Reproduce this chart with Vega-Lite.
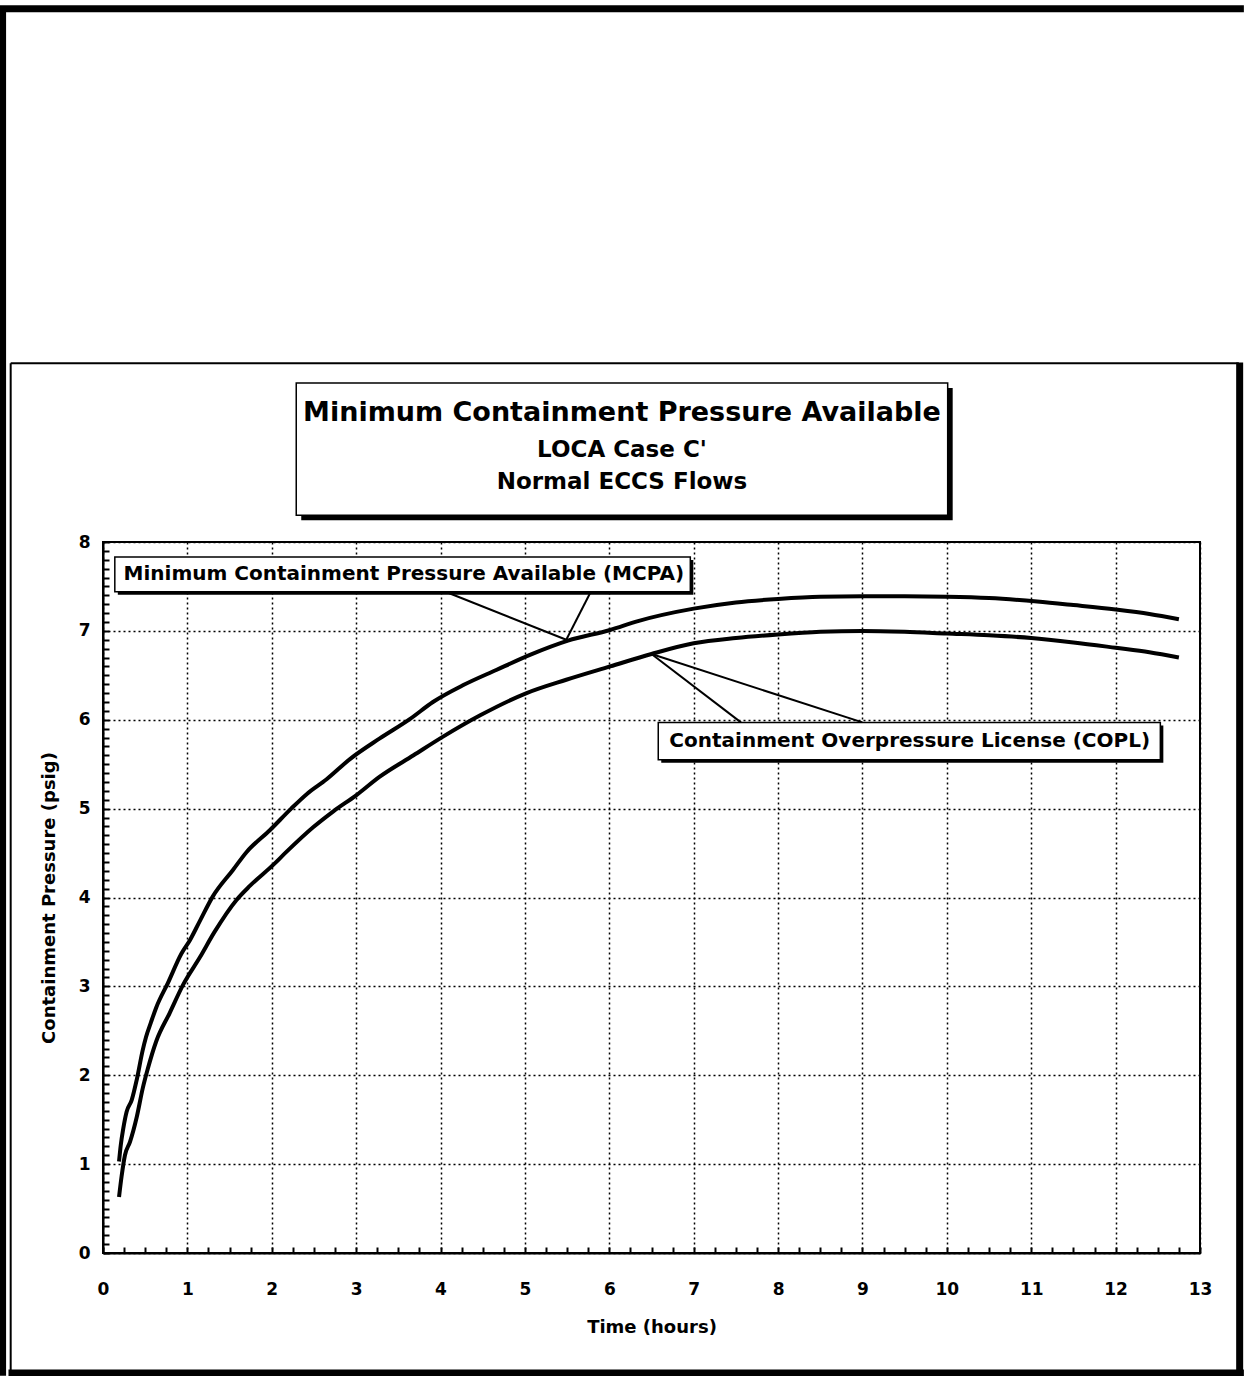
{
  "$schema": "https://vega.github.io/schema/vega-lite/v6.json",
  "autosize": {"type": "none"},
  "width": 1097,
  "height": 711,
  "padding": {"left": 103, "top": 542, "right": 44, "bottom": 123},
  "background": "white",
  "view": {"stroke": "black", "strokeWidth": 2},
  "datasets": {
    "curves": [
      {"t": 0.19, "p": 1.03, "series": "MCPA"},
      {"t": 0.21, "p": 1.21, "series": "MCPA"},
      {"t": 0.24, "p": 1.40, "series": "MCPA"},
      {"t": 0.28, "p": 1.59, "series": "MCPA"},
      {"t": 0.34, "p": 1.72, "series": "MCPA"},
      {"t": 0.40, "p": 1.95, "series": "MCPA"},
      {"t": 0.47, "p": 2.28, "series": "MCPA"},
      {"t": 0.51, "p": 2.43, "series": "MCPA"},
      {"t": 0.57, "p": 2.60, "series": "MCPA"},
      {"t": 0.63, "p": 2.76, "series": "MCPA"},
      {"t": 0.77, "p": 3.04, "series": "MCPA"},
      {"t": 0.93, "p": 3.37, "series": "MCPA"},
      {"t": 1.03, "p": 3.52, "series": "MCPA"},
      {"t": 1.15, "p": 3.74, "series": "MCPA"},
      {"t": 1.30, "p": 4.01, "series": "MCPA"},
      {"t": 1.54, "p": 4.31, "series": "MCPA"},
      {"t": 1.70, "p": 4.51, "series": "MCPA"},
      {"t": 1.98, "p": 4.76, "series": "MCPA"},
      {"t": 2.23, "p": 5.00, "series": "MCPA"},
      {"t": 2.41, "p": 5.16, "series": "MCPA"},
      {"t": 2.65, "p": 5.33, "series": "MCPA"},
      {"t": 2.93, "p": 5.56, "series": "MCPA"},
      {"t": 3.28, "p": 5.79, "series": "MCPA"},
      {"t": 3.64, "p": 6.01, "series": "MCPA"},
      {"t": 3.91, "p": 6.20, "series": "MCPA"},
      {"t": 4.27, "p": 6.39, "series": "MCPA"},
      {"t": 4.66, "p": 6.56, "series": "MCPA"},
      {"t": 5.06, "p": 6.73, "series": "MCPA"},
      {"t": 5.51, "p": 6.89, "series": "MCPA"},
      {"t": 6.01, "p": 7.01, "series": "MCPA"},
      {"t": 6.34, "p": 7.11, "series": "MCPA"},
      {"t": 7.00, "p": 7.25, "series": "MCPA"},
      {"t": 7.50, "p": 7.32, "series": "MCPA"},
      {"t": 8.00, "p": 7.36, "series": "MCPA"},
      {"t": 8.50, "p": 7.385, "series": "MCPA"},
      {"t": 9.00, "p": 7.39, "series": "MCPA"},
      {"t": 9.50, "p": 7.39, "series": "MCPA"},
      {"t": 10.00, "p": 7.385, "series": "MCPA"},
      {"t": 10.50, "p": 7.37, "series": "MCPA"},
      {"t": 11.07, "p": 7.33, "series": "MCPA"},
      {"t": 11.50, "p": 7.29, "series": "MCPA"},
      {"t": 12.00, "p": 7.24, "series": "MCPA"},
      {"t": 12.40, "p": 7.19, "series": "MCPA"},
      {"t": 12.75, "p": 7.13, "series": "MCPA"},
      {"t": 0.19, "p": 0.63, "series": "COPL"},
      {"t": 0.22, "p": 0.86, "series": "COPL"},
      {"t": 0.26, "p": 1.10, "series": "COPL"},
      {"t": 0.32, "p": 1.25, "series": "COPL"},
      {"t": 0.40, "p": 1.53, "series": "COPL"},
      {"t": 0.47, "p": 1.85, "series": "COPL"},
      {"t": 0.53, "p": 2.07, "series": "COPL"},
      {"t": 0.63, "p": 2.38, "series": "COPL"},
      {"t": 0.79, "p": 2.70, "series": "COPL"},
      {"t": 0.95, "p": 3.02, "series": "COPL"},
      {"t": 1.15, "p": 3.33, "series": "COPL"},
      {"t": 1.32, "p": 3.61, "series": "COPL"},
      {"t": 1.58, "p": 3.97, "series": "COPL"},
      {"t": 1.74, "p": 4.13, "series": "COPL"},
      {"t": 2.02, "p": 4.37, "series": "COPL"},
      {"t": 2.17, "p": 4.51, "series": "COPL"},
      {"t": 2.49, "p": 4.79, "series": "COPL"},
      {"t": 2.73, "p": 4.97, "series": "COPL"},
      {"t": 3.00, "p": 5.15, "series": "COPL"},
      {"t": 3.28, "p": 5.36, "series": "COPL"},
      {"t": 3.68, "p": 5.60, "series": "COPL"},
      {"t": 4.03, "p": 5.81, "series": "COPL"},
      {"t": 4.47, "p": 6.05, "series": "COPL"},
      {"t": 5.02, "p": 6.30, "series": "COPL"},
      {"t": 5.49, "p": 6.45, "series": "COPL"},
      {"t": 6.01, "p": 6.60, "series": "COPL"},
      {"t": 6.50, "p": 6.74, "series": "COPL"},
      {"t": 7.00, "p": 6.86, "series": "COPL"},
      {"t": 7.50, "p": 6.92, "series": "COPL"},
      {"t": 8.00, "p": 6.96, "series": "COPL"},
      {"t": 8.50, "p": 6.99, "series": "COPL"},
      {"t": 9.00, "p": 7.00, "series": "COPL"},
      {"t": 9.50, "p": 6.99, "series": "COPL"},
      {"t": 10.00, "p": 6.97, "series": "COPL"},
      {"t": 10.50, "p": 6.95, "series": "COPL"},
      {"t": 11.00, "p": 6.92, "series": "COPL"},
      {"t": 11.50, "p": 6.87, "series": "COPL"},
      {"t": 12.00, "p": 6.81, "series": "COPL"},
      {"t": 12.40, "p": 6.76, "series": "COPL"},
      {"t": 12.75, "p": 6.70, "series": "COPL"}
    ],
    "leaders": [
      {"x1": 4.06, "y1": 7.44, "x2": 5.49, "y2": 6.90},
      {"x1": 5.77, "y1": 7.42, "x2": 5.49, "y2": 6.90},
      {"x1": 6.50, "y1": 6.74, "x2": 7.56, "y2": 5.97},
      {"x1": 6.50, "y1": 6.74, "x2": 9.00, "y2": 5.97}
    ],
    "boxes": [
      {"name": "title", "x1": 2.29, "x2": 10.01, "y1": 8.30, "y2": 9.79},
      {"name": "mcpa", "x1": 0.14, "x2": 6.96, "y1": 7.44, "y2": 7.83},
      {"name": "copl", "x1": 6.58, "x2": 12.53, "y1": 5.55, "y2": 5.97}
    ],
    "texts": [
      {"role": "title1", "text": "Minimum Containment Pressure Available", "x": 6.15, "y": 9.45},
      {"role": "title2", "text": "LOCA Case C'", "x": 6.15, "y": 9.03},
      {"role": "title2", "text": "Normal ECCS Flows", "x": 6.15, "y": 8.67},
      {"role": "note", "text": "Minimum Containment Pressure Available (MCPA)", "x": 3.565, "y": 7.64},
      {"role": "note", "text": "Containment Overpressure License (COPL)", "x": 9.56, "y": 5.76}
    ],
    "frame": [
      {"kind": "thick", "x1": -1.225, "x2": 13.52, "y1": 14.0, "y2": 14.0},
      {"kind": "thick", "x1": -1.19, "x2": -1.19, "y1": 14.0, "y2": -1.38},
      {"kind": "thick", "x1": -1.12, "x2": 13.52, "y1": -1.35, "y2": -1.35},
      {"kind": "thick", "x1": 13.47, "x2": 13.47, "y1": 10.02, "y2": -1.38},
      {"kind": "thin", "x1": -1.094, "x2": 13.46, "y1": 10.01, "y2": 10.01},
      {"kind": "thin", "x1": -1.094, "x2": -1.094, "y1": 10.01, "y2": -1.35}
    ]
  },
  "layer": [
    {
      "data": {"name": "curves"},
      "mark": {"type": "line", "color": "black", "strokeWidth": 4, "interpolate": "monotone", "clip": false},
      "encoding": {
        "x": {
          "field": "t", "type": "quantitative",
          "scale": {"domain": [0, 13], "nice": false, "zero": false},
          "axis": {
            "title": "Time (hours)",
            "values": [0, 0.25, 0.5, 0.75, 1, 1.25, 1.5, 1.75, 2, 2.25, 2.5, 2.75, 3, 3.25, 3.5, 3.75, 4, 4.25, 4.5, 4.75, 5, 5.25, 5.5, 5.75, 6, 6.25, 6.5, 6.75, 7, 7.25, 7.5, 7.75, 8, 8.25, 8.5, 8.75, 9, 9.25, 9.5, 9.75, 10, 10.25, 10.5, 10.75, 11, 11.25, 11.5, 11.75, 12, 12.25, 12.5, 12.75, 13],
            "tickCount": 500,
            "labelExpr": "datum.value % 1 === 0 ? '' + datum.value : ''",
            "labelOverlap": false,
            "labelFlush": false,
            "labelFont": "DejaVu Sans", "labelFontWeight": "bold", "labelFontSize": 17, "labelColor": "black",
            "labelPadding": 34,
            "tickSize": -6, "tickWidth": 2, "tickColor": "black",
            "domainColor": "black", "domainWidth": 2,
            "grid": true, "gridColor": "black", "gridWidth": 1.5, "gridDash": [2, 3],
            "gridOpacity": {"condition": {"test": "datum.value % 1 === 0", "value": 1}, "value": 0},
            "titleFont": "DejaVu Sans", "titleFontWeight": "bold", "titleFontSize": 18, "titleColor": "black",
            "titlePadding": 21
          }
        },
        "y": {
          "field": "p", "type": "quantitative",
          "scale": {"domain": [0, 8], "nice": false, "zero": false},
          "axis": {
            "title": "Containment Pressure (psig)",
            "values": [0, 0.1, 0.2, 0.3, 0.4, 0.5, 0.6, 0.7, 0.8, 0.9, 1, 1.1, 1.2, 1.3, 1.4, 1.5, 1.6, 1.7, 1.8, 1.9, 2, 2.1, 2.2, 2.3, 2.4, 2.5, 2.6, 2.7, 2.8, 2.9, 3, 3.1, 3.2, 3.3, 3.4, 3.5, 3.6, 3.7, 3.8, 3.9, 4, 4.1, 4.2, 4.3, 4.4, 4.5, 4.6, 4.7, 4.8, 4.9, 5, 5.1, 5.2, 5.3, 5.4, 5.5, 5.6, 5.7, 5.8, 5.9, 6, 6.1, 6.2, 6.3, 6.4, 6.5, 6.6, 6.7, 6.8, 6.9, 7, 7.1, 7.2, 7.3, 7.4, 7.5, 7.6, 7.7, 7.8, 7.9, 8],
            "tickCount": 500,
            "labelExpr": "datum.value % 1 === 0 ? '' + datum.value : ''",
            "labelOverlap": false,
            "labelFlush": false,
            "labelFont": "DejaVu Sans", "labelFontWeight": "bold", "labelFontSize": 17, "labelColor": "black",
            "labelPadding": 19,
            "tickSize": -6, "tickWidth": 2, "tickColor": "black",
            "domainColor": "black", "domainWidth": 2,
            "grid": true, "gridColor": "black", "gridWidth": 1.5, "gridDash": [2, 3],
            "gridOpacity": {"condition": {"test": "datum.value % 1 === 0", "value": 1}, "value": 0},
            "titleFont": "DejaVu Sans", "titleFontWeight": "bold", "titleFontSize": 18, "titleColor": "black",
            "titlePadding": 20
          }
        },
        "detail": {"field": "series", "type": "nominal"}
      }
    },
    {
      "data": {"name": "leaders"},
      "mark": {"type": "rule", "color": "black", "strokeWidth": 2, "clip": false},
      "encoding": {
        "x": {"field": "x1", "type": "quantitative"},
        "y": {"field": "y1", "type": "quantitative"},
        "x2": {"field": "x2"},
        "y2": {"field": "y2"}
      }
    },
    {
      "data": {"name": "boxes"},
      "transform": [{"filter": "datum.name === 'title'"}],
      "mark": {"type": "rect", "fill": "black", "xOffset": 5, "x2Offset": 5, "yOffset": 5, "y2Offset": 5, "clip": false},
      "encoding": {
        "x": {"field": "x1", "type": "quantitative"},
        "x2": {"field": "x2"},
        "y": {"field": "y1", "type": "quantitative"},
        "y2": {"field": "y2"}
      }
    },
    {
      "data": {"name": "boxes"},
      "transform": [{"filter": "datum.name !== 'title'"}],
      "mark": {"type": "rect", "fill": "black", "xOffset": 3, "x2Offset": 3, "yOffset": 3, "y2Offset": 3, "clip": false},
      "encoding": {
        "x": {"field": "x1", "type": "quantitative"},
        "x2": {"field": "x2"},
        "y": {"field": "y1", "type": "quantitative"},
        "y2": {"field": "y2"}
      }
    },
    {
      "data": {"name": "boxes"},
      "mark": {"type": "rect", "fill": "white", "stroke": "black", "strokeWidth": 1.5, "clip": false},
      "encoding": {
        "x": {"field": "x1", "type": "quantitative"},
        "x2": {"field": "x2"},
        "y": {"field": "y1", "type": "quantitative"},
        "y2": {"field": "y2"}
      }
    },
    {
      "data": {"name": "texts"},
      "transform": [{"filter": "datum.role === 'title1'"}],
      "mark": {"type": "text", "font": "DejaVu Sans", "fontWeight": "bold", "fontSize": 27, "color": "black", "align": "center", "baseline": "middle", "clip": false},
      "encoding": {
        "x": {"field": "x", "type": "quantitative"},
        "y": {"field": "y", "type": "quantitative"},
        "text": {"field": "text"}
      }
    },
    {
      "data": {"name": "texts"},
      "transform": [{"filter": "datum.role === 'title2'"}],
      "mark": {"type": "text", "font": "DejaVu Sans", "fontWeight": "bold", "fontSize": 23, "color": "black", "align": "center", "baseline": "middle", "clip": false},
      "encoding": {
        "x": {"field": "x", "type": "quantitative"},
        "y": {"field": "y", "type": "quantitative"},
        "text": {"field": "text"}
      }
    },
    {
      "data": {"name": "texts"},
      "transform": [{"filter": "datum.role === 'note'"}],
      "mark": {"type": "text", "font": "DejaVu Sans", "fontWeight": "bold", "fontSize": 20, "color": "black", "align": "center", "baseline": "middle", "clip": false},
      "encoding": {
        "x": {"field": "x", "type": "quantitative"},
        "y": {"field": "y", "type": "quantitative"},
        "text": {"field": "text"}
      }
    },
    {
      "data": {"name": "frame"},
      "transform": [{"filter": "datum.kind === 'thick'"}],
      "mark": {"type": "rule", "color": "black", "strokeWidth": 7, "clip": false},
      "encoding": {
        "x": {"field": "x1", "type": "quantitative"},
        "y": {"field": "y1", "type": "quantitative"},
        "x2": {"field": "x2"},
        "y2": {"field": "y2"}
      }
    },
    {
      "data": {"name": "frame"},
      "transform": [{"filter": "datum.kind === 'thin'"}],
      "mark": {"type": "rule", "color": "black", "strokeWidth": 2, "clip": false},
      "encoding": {
        "x": {"field": "x1", "type": "quantitative"},
        "y": {"field": "y1", "type": "quantitative"},
        "x2": {"field": "x2"},
        "y2": {"field": "y2"}
      }
    }
  ]
}
